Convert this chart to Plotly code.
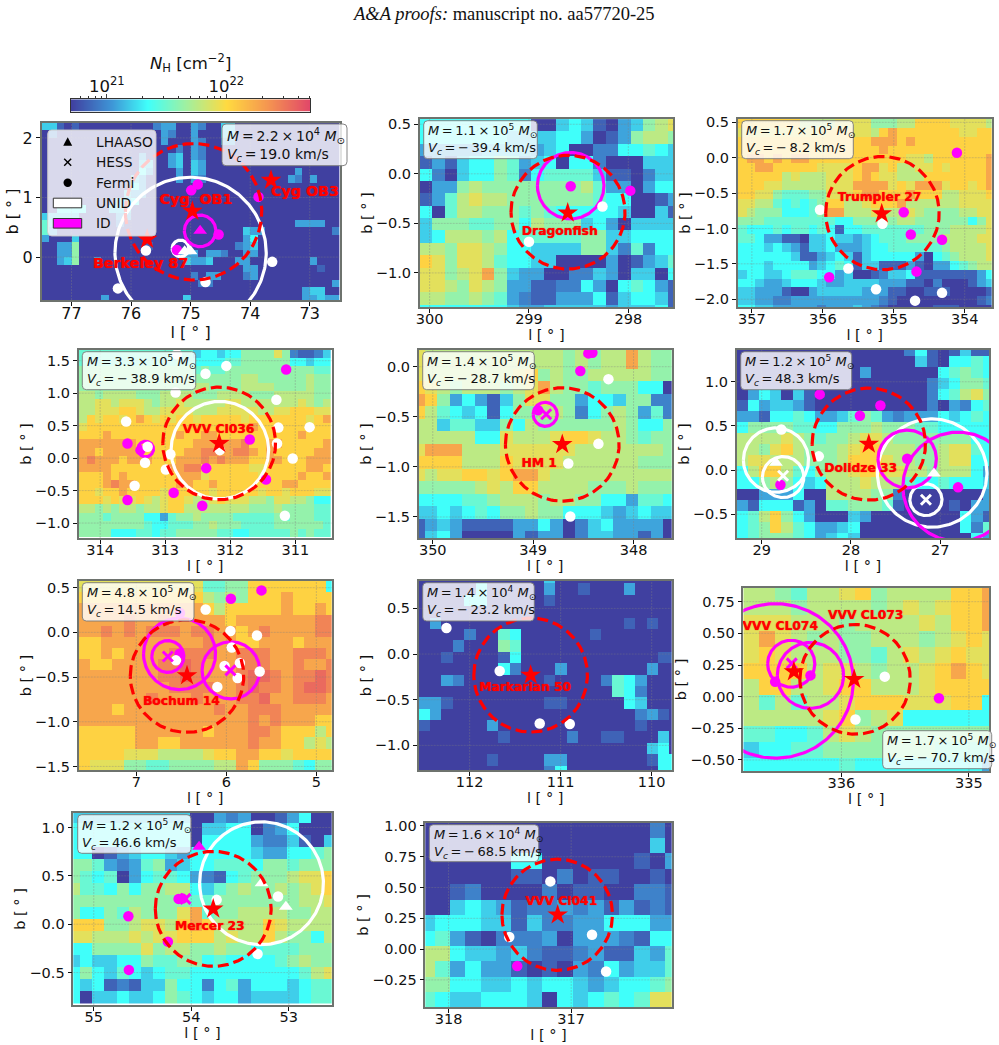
import numpy as np
import plotly.graph_objects as go

W, H = 999, 1045

# log10(N_H) for each character used in the column-density rows below
NH_LEVELS = {"0": 20.70, "1": 20.84, "2": 20.96, "3": 21.08, "4": 21.20, "5": 21.34,
             "6": 21.48, "7": 21.62, "8": 21.76, "9": 21.90, "a": 22.04, "b": 22.26,
             "c": 22.42, "d": 22.54}
NH_MIN, NH_MAX = 20.70, 22.70
COLORSCALE = [[0.00, "rgb(64,64,160)"], [0.17, "rgb(62,150,215)"], [0.32, "rgb(64,255,250)"],
              [0.48, "rgb(160,240,160)"], [0.65, "rgb(255,218,64)"], [0.82, "rgb(245,150,80)"],
              [1.00, "rgb(225,70,105)"]]

# ---------- Cygnus field ----------
CYG_ROWS = [
    "4410100000000002330032004400000000000000", "0200000000000000320030004400000000000000",
    "0000000000000000300032003300000000000000", "0000000000000000002032000000000000000000",
    "0000000000000300034032000000000000000000", "0000000000000440034043000000000000000000",
    "0000000000000530003043000000000000300000", "0000000000004300003032000000000003203000",
    "0000000000005300000000000000000000000000", "0000000000043300000000000000000000000000",
    "0000500000445000000000000000000000000000", "0055550004440000000000000000000000000000",
    "4444400000330000000000000000000000000000", "6400000000200000000000000000000000333300",
    "6300000000000000000000000004330000000002", "3000400000000000000000000003500000000000",
    "0033700000000010000000000023400000000000", "0033700000000000003330332003300000000000",
    "0034700300000000000433400033000000003000", "0000000000000000000000000003300000000100",
    "0000000000000000000020330002300000000000", "0000000000000000000002200000000000000003",
    "0000000000000000000000000000000000034400", "0000000030000000000400000000000000033433",
]
CYG_UNID_PTS = [(75.75, 0.11), (76.22, -0.525), (74.75, -0.42), (73.63, -0.08)]
CYG_ID_PTS = [(74.88, 1.22), (74.99, 1.12), (73.86, 1.01), (74.53, 0.38), (75.23, 0.12)]
CYG_UNID_RINGS = [(75.0, 0.07, 1.27), (75.17, 0.145, 0.14)]
CYG_ID_RINGS = [(74.84, 0.44, 0.265)]
CYG_UNID_TRI = [(75.1, 0.1), (75.0, 0.1)]
CYG_ID_TRI = [(74.84, 0.44)]
CYG_CLUSTERS = [("Cyg  OB1", 74.97, 0.77, 74.91, 0.955), ("Cyg OB3", 73.65, 1.29, 73.08, 1.08),
                ("Berkeley 87", 75.73, 0.30, 75.84, -0.13)]
CYG_CIRCLES = [(74.95, 0.76, 1.145)]

# ---------- Dragonfish field ----------
DRA_ROWS = [
    "5555555550045410347898", "5555555444455301378876", "333334444345002255654", "131455763450552000444",
    "520455762566664110244", "033787777777786330355", "136898877777776550013", "506887776765555540041",
    "4777667758777453044", "45888785666667744555", "88799875544447742625", "a97998655440000301346",
    "99789b743300224304405", "998798733112253056531", "887787632113335145541", "555555543344444344451",
]
DRA_UNID_PTS = [(298.26, -0.33), (299.0, -0.685)]
DRA_ID_PTS = [(298.58, -0.125), (297.98, -0.17)]
DRA_ID_RINGS = [(298.58, -0.12, 0.335)]
DRA_CLUSTERS = [("Dragonfish", 298.61, -0.395, 298.69, -0.585)]
DRA_CIRCLES = [(298.607, -0.387, 0.574)]

# ---------- Trumpler 27 field ----------
TRU_ROWS = [
    "aaaaaaa8888999977788aaaa99998", "9999999999aaa998abaaaaaaa99aa",
    "aaaaaaaaaaaaaaabbbabaaaaaaaaa", "aaaaaaaaa9aaaaaabaaaaaaaaaaaa",
    "abbababbaaaaaaaaaaa998aaaaaab", "aabbaaaaa9999abb9a8899a9aaaab",
    "aaaaa89888999aba99888aaaaaaab", "aaa9988888999bbbb9a9bbb9aa9ab",
    "aa99766677999abbaaabaaa88999a", "9988656567aa889aaab8888889999",
    "9877755567bb88898889877778899", "77766666666557778788777777579",
    "65556566565155666666677788889", "66533110445443456667777888899",
    "55545431445333455666666788889", "55555541134541455555305678889",
    "55545555345651441113103356788", "45544566655340012445111111135",
    "55433455543344443331102000134", "44333100344444333110011100001",
    "44332233333333332100000000012", "55443333323334321000001110000",
]
TRU_UNID_PTS = [(356.04, -0.735), (355.16, -0.935), (355.64, -1.565), (355.25, -1.86), (354.7, -2.02), (354.32, -1.91)]
TRU_ID_PTS = [(354.11, 0.07), (354.86, -0.77), (354.76, -1.085), (354.32, -1.16), (354.68, -1.61), (355.91, -1.69)]
TRU_CLUSTERS = [("Trumpler 27", 355.17, -0.79, 355.2, -0.575)]
TRU_CIRCLES = [(355.16, -0.783, 0.8)]

# ---------- VVV Cl036 field ----------
V36_ROWS = [
    "6666666666666645545577779721124", "6666666666666655556677777755455",
    "7777777777777767667777777777766", "7777777777777777777788777777877",
    "7777777777777788777788887777877", "8878888777888877788887778888877",
    "8899899987889888889988888889878", "88999aa9889999888999998899aaa99",
    "8a9aa9aba9a9aa9aaaaa9aaaaaaa9ab", "9aaaaaaaaaaaaaaaaaaaabaaaaaaaaa",
    "aaabaaaaaaaabaabbaaaaaaaaaabaaa", "bbbbbbbaaaaaaabbbbbbcaabbaaaaab",
    "bbabbbbbaaaaabbccbbccbabaaaaabb", "bcbbbabbbaaabbbcbcbbbaabbaaabbb",
    "bbbbaaaaaaabbccaaaaaa99aaaaabba", "aaababaaaaaabbb9aaaaaa9aaaabaab",
    "aaabcbbaaaaabbaabaaaaaaaabbaaaa", "aa9aabaaaa9aaaaa9aaaaa9aa9aaa99",
    "aaa9a99a989aa9889a9998879988755", "88787887889aa888888887778777766",
    "7776777755367787777666667677766", "7777777765566677877766667777776",
    "7777555665667777766556666676766",
]
V36_UNID_PTS = [(312.82, 1.6), (312.06, 1.42), (312.38, 1.3), (312.84, 1.01), (311.29, 0.9), (313.6, 0.564),
                (311.26, 0.47), (310.78, 0.477), (311.28, 0.226), (313.27, 0.174), (312.92, 0.06), (312.16, 0.123),
                (311.04, -0.005), (313.31, -0.07), (312.99, -0.175), (313.47, -0.426), (311.16, -0.887)]
V36_ID_PTS = [(311.14, 1.365), (311.7, 0.287), (313.58, 0.226), (313.38, 0.123), (312.37, -0.154),
              (311.45, -0.33), (312.87, -0.533), (312.43, -0.733), (313.58, -0.646)]
V36_UNID_RINGS = [(312.16, 0.123, 0.75)]
V36_ID_RINGS = [(313.3, 0.14, 0.12)]
V36_CLUSTERS = [("VVV Cl036", 312.17, 0.226, 312.18, 0.43)]
V36_CIRCLES = [(312.17, 0.226, 0.867)]

# ---------- HM 1 field ----------
HM1_ROWS = [
    "98888888888878788b877", "98888888888878788b877", "988888889a78778888877", "a987888789b8776777550",
    "ba7353147997735547722", "a86545157788725787362", "884664475877777787557", "888885598889aa9887677",
    "9bbb88899999988888887", "aaaa888a9999888888777", "9899aa9abb98888888888", "77777898aa88887778777",
    "555566788878877553665", "445456577877555434544", "134311113353024533330", "145300003133024433130",
]
HM1_UNID_PTS = [(348.25, -0.124), (348.35, -0.77), (348.65, -0.967), (348.63, -1.495)]
HM1_ID_PTS = [(348.95, -0.435), (348.53, -0.043), (348.45, 0.133), (348.41, 0.14)]
HM1_ID_RINGS = [(348.88, -0.475, 0.12)]
HM1_ID_X = [(348.87, -0.475)]
HM1_CLUSTERS = [("HM 1", 348.71, -0.776, 348.94, -0.97)]
HM1_CIRCLES = [(348.71, -0.776, 0.566)]

# ---------- Dolidze 33 field ----------
DOL_ROWS = [
    "00000000000000025101411", "00000000000000004105565", "00000000000300000056765",
    "00000000000000000245776", "03540410000000000256897", "15344310000000000203256",
    "33155653346763233354565", "57777665577787776655555", "88889876778998777777755",
    "8879a877789aa8887789965", "8998887778aaa9887789955", "58aa8657889aa9988788853",
    "55787545888988865565554", "00333500888877200000003", "31555130667776100001033",
    "568a7530004300000000531", "567a8653345000000000526", "56777653454000000000053",
]
DOL_UNID_PTS = [(28.78, 0.46), (28.36, 0.155)]
DOL_ID_PTS = [(28.79, -0.166), (28.35, 0.857), (27.67, 0.732), (27.9, 0.615), (27.37, 0.128), (26.8, -0.196)]
DOL_UNID_RINGS = [(28.84, 0.113, 0.365), (28.76, -0.08, 0.232), (27.09, -0.034, 0.614), (27.16, -0.336, 0.18)]
DOL_ID_RINGS = [(27.37, 0.125, 0.327), (26.8, -0.189, 0.618)]
DOL_UNID_TRI = [(28.84, 0.083), (27.07, -0.04)]
DOL_UNID_X = [(28.76, -0.064), (27.16, -0.336)]
DOL_CLUSTERS = [("Dolidze 33", 27.8, 0.294, 27.89, 0.01)]
DOL_CIRCLES = [(27.8, 0.294, 0.635)]

# ---------- Bochum 14 field ----------
BOC_ROWS = [
    "999999999996677aaaaaaa5", "aaaaaaaaaaa8787aaabaaaa", "bbbbbbbbbbba8aaaaabaaba", "bbbbcbbcbbbbbabbbbbbbcc",
    "bbcbcbcccbccbbabcbbbbcc", "aabbbbbbbbbcbbaabbbabbb", "aababbbbccccbbcccbbcccb",
    "baabbbbccdcbbbcccbbcbbc", "bbbbbbbccdcbbbcddcbccdc", "bbbbbbbbccccbbcdccbcddc",
    "bbbbbbcbbbcbbbccdbbcccb", "bbbabbbbbbbbcbbcccbbbbb", "bbbbbbbbbbbbbbbcbcbbbaa",
    "aaaaabbbbbbabbbccbaaa8a", "aaaaabbaabbbbbbcbbaa898", "aaaa99988889aabbaa9aaaa",
    "a9997766777788ba7776577", "a7656655679bab766557788",
]
BOC_UNID_PTS = [(6.23, 0.257), (5.955, 0.015), (5.66, -0.034), (5.94, -0.17), (5.85, -0.343), (6.02, -0.377),
                (5.875, -0.51), (5.63, -0.437), (6.1, -0.61), (6.56, -0.313)]
BOC_ID_PTS = [(5.61, 0.47), (5.95, 0.377), (6.515, 0.216), (6.52, -0.24)]
BOC_ID_RINGS = [(6.52, -0.24, 0.4), (6.65, -0.27, 0.178), (5.95, -0.425, 0.32)]
BOC_ID_X = [(6.65, -0.27), (5.955, -0.425)]
BOC_CLUSTERS = [("Bochum 14", 6.437, -0.485, 6.5, -0.78)]
BOC_CIRCLES = [(6.437, -0.489, 0.63)]

# ---------- Markarian 50 field ----------
MAR_ROWS = [
    "00000000000400000000000", "00000500000300100030000", "00005500000100000000000",
    "00000000000000000000000", "03000000000000000010100", "00002006500000010000000",
    "00020007600000000000000", "00100001500000000000011", "00000005200030000000300",
    "00320000000100002653000", "00000000000000000652000", "33100000000110000054000",
    "53000000000000000002310", "10000030000000000001000", "00000001000002001100040",
    "00000000000000000000450", "00000010000330000000155", "00000000000250000000055",
]
MAR_UNID_PTS = [(112.255, 0.285), (111.67, -0.186), (111.23, -0.76), (110.9, -0.766)]
MAR_CLUSTERS = [("Markarian 50", 111.33, -0.23, 111.39, -0.372)]
MAR_CIRCLES = [(111.33, -0.23, 0.624)]

# ---------- VVV CL073 / CL074 field ----------
V73_ROWS = [
    "8876889a78888aab", "8887888878989aab", "9998887888898aab", "9b987877888789a9",
    "9a98887768989a99", "aaaa89987889aba9", "8aa889aa8889aaaaa", "8686889aaa999aa5",
    "888889a789555555", "6655689877777777", "4556677777776666", "5555556555555553",
]
V73_UNID_PTS = [(335.66, 0.158), (335.89, -0.18)]
V73_ID_PTS = [(336.52, 0.118), (336.243, 0.168), (335.235, -0.013)]
V73_ID_RINGS = [(336.517, 0.124, 0.61), (336.243, 0.168, 0.26), (336.394, 0.26, 0.185)]
V73_ID_X = [(336.39, 0.263)]
V73_CLUSTERS = [("VVV CL073", 335.9, 0.137, 335.81, 0.64), ("VVV CL074", 336.373, 0.197, 336.48, 0.553)]
V73_CIRCLES = [(335.893, 0.137, 0.433)]

# ---------- Mercer 23 field ----------
MER_ROWS = [
    "4444444444003230013500", "5555555555044550235000", "5555555555055553224104",
    "5501345543555554335567", "7763236734556665776777", "765603566532156777899a",
    "866575778854678778789a", "7777777777667777777889", "7557687779b67788887788",
    "aaa778998aba8888a98888", "998889899aaa8988a87758", "5577779788778775666777",
    "4544557667756555567877", "5754654566555555555689", "5451214475525635554566", "5044544576545534444566",
]
MER_UNID_PTS = [(53.74, 0.252), (53.11, 0.286), (53.32, -0.307)]
MER_ID_PTS = [(54.13, 0.262), (54.09, 0.265), (54.645, 0.083), (54.64, -0.472), (54.24, -0.18)]
MER_UNID_RINGS = [(53.28, 0.424, 0.635)]
MER_UNID_TRI = [(53.28, 0.424), (53.03, 0.18)]
MER_ID_TRI = [(53.92, 0.8)]
MER_ID_X = [(54.06, 0.262)]
MER_CLUSTERS = [("Mercer 23", 53.775, 0.159, 53.81, -0.03)]
MER_CIRCLES = [(53.775, 0.159, 0.594)]

# ---------- VVV Cl041 field ----------
V41_ROWS = [
    "00000000000000020", "00000000000000040", "00000055000000103", "00000011020110010",
    "00120000201100221", "00454312232313121", "45554414223355533", "56310222303332155",
    "88544342112311436", "86353310103253446", "77554454554345567", "65445554054565699",
]
V41_UNID_PTS = [(317.17, 0.55), (317.505, 0.098), (316.83, 0.117), (316.715, -0.182)]
V41_ID_PTS = [(317.44, -0.138)]
V41_CLUSTERS = [("VVV Cl041", 317.11, 0.279, 317.08, 0.385)]
V41_CIRCLES = [(317.114, 0.279, 0.451)]

# Panel table: pixel frame (left, top, right, bottom), axis limits, grid origin, ticks and info box
PANELS = [
    dict(frame=(41.7, 123, 339.5, 300), xr=(77.5, 72.5), yr=(-0.72, 2.25), grid=(77.5, 2.25), xt=[77, 76, 75, 74, 73],
         yt=[0, 1, 2], fmt="d", rows=CYG_ROWS, upts=CYG_UNID_PTS, ipts=CYG_ID_PTS, urings=CYG_UNID_RINGS,
         irings=CYG_ID_RINGS, utri=CYG_UNID_TRI, itri=CYG_ID_TRI, clusters=CYG_CLUSTERS, circles=CYG_CIRCLES,
         mass=("2.2", "4"), vel="19.0", box=(222, 124, 347, 165.7), label_size=14.3, tick_size=16, box_size=14),
    dict(frame=(419.7, 119, 673, 307), xr=(300.1, 297.55), yr=(-1.344, 0.553), grid=(300.1, 0.552), xt=[300, 299, 298],
         yt=[-1, -0.5, 0, 0.5], fmt=".1f", rows=DRA_ROWS, upts=DRA_UNID_PTS, ipts=DRA_ID_PTS, irings=DRA_ID_RINGS,
         clusters=DRA_CLUSTERS, circles=DRA_CIRCLES, mass=("1.1", "5"), vel="−39.4", box=(423.7, 120.7, 537.3, 158.7)),
    dict(frame=(737.7, 119, 991.7, 307), xr=(357.2, 353.62), yr=(-2.11, 0.547), grid=(357.2, 0.547),
         xt=[357, 356, 355, 354], yt=[-2, -1.5, -1, -0.5, 0, 0.5], fmt=".1f", rows=TRU_ROWS, upts=TRU_UNID_PTS,
         ipts=TRU_ID_PTS, clusters=TRU_CLUSTERS, circles=TRU_CIRCLES, mass=("1.7", "5"), vel="−8.2",
         box=(741.7, 120.7, 853.3, 158.7)),
    dict(frame=(78.7, 350, 331.7, 538), xr=(314.33, 310.44), yr=(-1.23, 1.665), grid=(314.33, 1.665),
         xt=[314, 313, 312, 311], yt=[-1, -0.5, 0, 0.5, 1, 1.5], fmt=".1f", rows=V36_ROWS, upts=V36_UNID_PTS,
         ipts=V36_ID_PTS, urings=V36_UNID_RINGS, irings=V36_ID_RINGS, clusters=V36_CLUSTERS, circles=V36_CIRCLES,
         mass=("3.3", "5"), vel="−38.9", box=(82.3, 351.7, 195.7, 389.7)),
    dict(frame=(418.7, 350, 671.7, 538), xr=(350.14, 347.62), yr=(-1.71, 0.167), grid=(350.207, 0.227),
         xt=[350, 349, 348], yt=[-1.5, -1, -0.5, 0], fmt=".1f", rows=HM1_ROWS, upts=HM1_UNID_PTS, ipts=HM1_ID_PTS,
         irings=HM1_ID_RINGS, ix=HM1_ID_X, clusters=HM1_CLUSTERS, circles=HM1_CIRCLES, mass=("1.4", "5"), vel="−28.7",
         box=(422.7, 351.7, 534.3, 389.7)),
    dict(frame=(736.7, 350, 989.3, 538), xr=(29.28, 26.45), yr=(-0.77, 1.36), grid=(29.28, 1.419), xt=[29, 28, 27],
         yt=[-0.5, 0, 0.5, 1], fmt=".1f", rows=DOL_ROWS, upts=DOL_UNID_PTS, ipts=DOL_ID_PTS, urings=DOL_UNID_RINGS,
         irings=DOL_ID_RINGS, utri=DOL_UNID_TRI, ux=DOL_UNID_X, clusters=DOL_CLUSTERS, circles=DOL_CIRCLES,
         mass=("1.2", "5"), vel="48.3", box=(740.7, 351.7, 851.7, 389.7)),
    dict(frame=(78.7, 581, 331.7, 770), xr=(7.64, 4.83), yr=(-1.54, 0.575), grid=(7.64, 0.575), xt=[7, 6, 5],
         yt=[-1.5, -1, -0.5, 0, 0.5], fmt=".1f", rows=BOC_ROWS, upts=BOC_UNID_PTS, ipts=BOC_ID_PTS, irings=BOC_ID_RINGS,
         ix=BOC_ID_X, clusters=BOC_CLUSTERS, circles=BOC_CIRCLES, mass=("4.8", "5"), vel="14.5",
         box=(82.3, 582.7, 194, 621)),
    dict(frame=(418.7, 581, 671.7, 770), xr=(112.56, 109.78), yr=(-1.27, 0.8), grid=(112.56, 0.898), xt=[112, 111, 110],
         yt=[-1, -0.5, 0, 0.5], fmt=".1f", rows=MAR_ROWS, upts=MAR_UNID_PTS, clusters=MAR_CLUSTERS, circles=MAR_CIRCLES,
         mass=("1.4", "4"), vel="−23.2", box=(422.7, 582.7, 534.3, 621)),
    dict(frame=(743.3, 588, 989.3, 771), xr=(336.77, 334.84), yr=(-0.587, 0.858), grid=(336.77, 0.892), xt=[336, 335],
         yt=[-0.5, -0.25, 0, 0.25, 0.5, 0.75], fmt=".2f", rows=V73_ROWS, upts=V73_UNID_PTS, ipts=V73_ID_PTS,
         irings=V73_ID_RINGS, ix=V73_ID_X, clusters=V73_CLUSTERS, circles=V73_CIRCLES, mass=("1.7", "5"), vel="−70.7",
         box=(882.7, 730.7, 991.7, 768.7)),
    dict(frame=(73.3, 813, 331.7, 1005), xr=(55.21, 52.56), yr=(-0.835, 1.15), grid=(55.266, 1.176), xt=[55, 54, 53],
         yt=[-0.5, 0, 0.5, 1], fmt=".1f", rows=MER_ROWS, upts=MER_UNID_PTS, ipts=MER_ID_PTS, urings=MER_UNID_RINGS,
         utri=MER_UNID_TRI, itri=MER_ID_TRI, ix=MER_ID_X, clusters=MER_CLUSTERS, circles=MER_CIRCLES,
         mass=("1.2", "5"), vel="46.6", box=(77.7, 814.7, 191, 853.3)),
    dict(frame=(425.3, 823, 671.7, 1007), xr=(318.19, 316.18), yr=(-0.47, 1.024), grid=(318.239, 1.027), xt=[318, 317],
         yt=[-0.25, 0, 0.25, 0.5, 0.75, 1], fmt=".2f", rows=V41_ROWS, upts=V41_UNID_PTS, ipts=V41_ID_PTS,
         clusters=V41_CLUSTERS, circles=V41_CIRCLES, mass=("1.6", "4"), vel="−68.5", box=(429.3, 824.7, 538.7, 861.7)),
]

CELL_DEG = 0.125
MAGENTA = "#ff00ff"
RED = "#ff0000"
WHITE = "#ffffff"
FONT = "DejaVu Sans"
INK = "#111111"
TICK_SIZE = 14.5
LABEL_SIZE = 12.3
BOX_SIZE = 13
THIN = "\u2009"


def px_x(v):
    return v / W


def px_y(v):
    return 1 - v / H


def decode(rows):
    width = max(len(r) for r in rows)
    return [[NH_LEVELS[c] for c in r.ljust(width, r[-1])] for r in rows]


def ring_xy(l0, b0, radius):
    a = np.linspace(0, 2 * np.pi, 241)
    return l0 + radius * np.cos(a), b0 + radius * np.sin(a)


def rounded(x0, y0, x1, y1, r=4):
    X0, X1 = px_x(x0), px_x(x1)
    Y0, Y1 = px_y(y0), px_y(y1)
    rx, ry = r / W, r / H
    return (f"M {X0 + rx},{Y0} L {X1 - rx},{Y0} Q {X1},{Y0} {X1},{Y0 - ry} L {X1},{Y1 + ry} "
            f"Q {X1},{Y1} {X1 - rx},{Y1} L {X0 + rx},{Y1} Q {X0},{Y1} {X0},{Y1 + ry} "
            f"L {X0},{Y0 - ry} Q {X0},{Y0} {X0 + rx},{Y0} Z")


fig = go.Figure()
shapes, annotations, axes = [], [], {}


def points(pts, xa, ya, symbol, color, size, name, lw=0):
    if not pts:
        return
    fig.add_trace(go.Scatter(
        x=[p[0] for p in pts], y=[p[1] for p in pts], xaxis=xa, yaxis=ya, mode="markers", name=name,
        showlegend=False, hoverinfo="skip",
        marker=dict(symbol=symbol, color=color, size=size, line=dict(width=lw, color=color))))


def rings(items, xa, ya, color, name, dash="solid"):
    for l0, b0, radius in items or []:
        xs, ys = ring_xy(l0, b0, radius)
        fig.add_trace(go.Scatter(x=xs, y=ys, xaxis=xa, yaxis=ya, mode="lines", name=name, showlegend=False,
                                 hoverinfo="skip", line=dict(color=color, width=3.2, dash=dash)))


for idx, p in enumerate(PANELS, start=1):
    xa, ya = f"x{idx}", f"y{idx}"
    left, top, right, bottom = p["frame"]
    z = decode(p["rows"])
    tick_size = p.get("tick_size", TICK_SIZE)

    fig.add_trace(go.Heatmap(
        z=z, x0=p["grid"][0] - CELL_DEG / 2, dx=-CELL_DEG, y0=p["grid"][1] - CELL_DEG / 2, dy=-CELL_DEG,
        xaxis=xa, yaxis=ya, colorscale=COLORSCALE, zmin=NH_MIN, zmax=NH_MAX, showscale=False,
        hoverinfo="skip", zsmooth=False))

    # Faint dotted grid, kept on top of the column-density cells
    gx, gy = [], []
    for t in p["xt"]:
        gx += [t, t, None]
        gy += [p["yr"][0], p["yr"][1], None]
    for t in p["yt"]:
        gx += [p["xr"][0], p["xr"][1], None]
        gy += [t, t, None]
    fig.add_trace(go.Scatter(x=gx, y=gy, xaxis=xa, yaxis=ya, mode="lines", showlegend=False, hoverinfo="skip",
                             name="grid", line=dict(color="rgba(128,128,128,0.45)", width=0.8, dash="2px,1px")))

    rings(p.get("urings"), xa, ya, WHITE, "UNID")
    rings(p.get("irings"), xa, ya, MAGENTA, "ID")
    points(p.get("ipts"), xa, ya, "circle", MAGENTA, 10.5, "Fermi ID")
    points(p.get("upts"), xa, ya, "circle", WHITE, 10.5, "Fermi UNID")
    points(p.get("itri"), xa, ya, "triangle-up", MAGENTA, 12, "LHAASO ID")
    points(p.get("utri"), xa, ya, "triangle-up", WHITE, 12, "LHAASO UNID")
    points(p.get("ix"), xa, ya, "x-thin", MAGENTA, 10, "HESS ID", 3)
    points(p.get("ux"), xa, ya, "x-thin", WHITE, 10, "HESS UNID", 3)
    rings(p.get("circles"), xa, ya, RED, "cluster radius", dash="11px,5px")

    clusters = p["clusters"]
    fig.add_trace(go.Scatter(x=[c[1] for c in clusters], y=[c[2] for c in clusters], xaxis=xa, yaxis=ya, mode="markers",
                             showlegend=False, hoverinfo="skip", name="clusters",
                             marker=dict(symbol="star", color=RED, size=15.5, line=dict(width=0))))
    fig.add_trace(go.Scatter(x=[c[3] for c in clusters], y=[c[4] for c in clusters], xaxis=xa, yaxis=ya, mode="text",
                             showlegend=False, hoverinfo="skip", name="cluster names", cliponaxis=False,
                             text=[f"<b>{c[0]}</b>" for c in clusters],
                             textfont=dict(family=FONT, size=p.get("label_size", LABEL_SIZE), color=RED, shadow="0 0 1px #ff0000"),
                             textposition="middle center"))

    common = dict(showgrid=False, zeroline=False, showline=True, mirror=True, linecolor="rgb(110,115,110)", linewidth=1.5,
                  ticks="outside", ticklen=4, tickwidth=1, tickcolor=INK, tickfont=dict(family=FONT, size=tick_size, color=INK))
    ax_suffix = "" if idx == 1 else str(idx)
    axes[f"xaxis{ax_suffix}"] = dict(
        common, anchor=ya, domain=[px_x(left), px_x(right)], range=list(p["xr"]), tickmode="array", tickvals=p["xt"],
        ticktext=[str(t) for t in p["xt"]], ticklabelstandoff=-6,
        title=dict(text="l [ ° ]", standoff=3, font=dict(family=FONT, size=tick_size, color=INK)))
    axes[f"yaxis{ax_suffix}"] = dict(
        common, anchor=xa, domain=[px_y(bottom), px_y(top)], range=list(p["yr"]), tickmode="array", tickvals=p["yt"],
        ticktext=[f"{t:{p['fmt']}}".replace("-", "−") if p["fmt"] != "d" else str(t) for t in p["yt"]],
        title=dict(text="b [ ° ]", standoff=0, font=dict(family=FONT, size=tick_size, color=INK)))

    # Rounded, translucent information box with the mass and velocity of the cloud
    bx0, by0, bx1, by1 = p["box"]
    shapes.append(dict(type="path", xref="paper", yref="paper", layer="above", path=rounded(bx0, by0, bx1, by1),
                       fillcolor="rgba(255,255,255,0.8)", line=dict(color="rgba(120,120,120,0.9)", width=1)))
    mant, exp = p["mass"]
    vel = p["vel"].replace("−", "−" + THIN)
    annotations.append(dict(
        xref="paper", yref="paper", x=px_x(bx0 + 2.6), y=px_y((by0 + by1) / 2), xanchor="left", yanchor="middle",
        align="left", showarrow=False, font=dict(family=FONT, size=p.get("box_size", BOX_SIZE), color=INK),
        text=(f"<i>M</i>{THIN}={THIN}{mant}{THIN}×{THIN}10<sup>{exp}</sup> <i>M</i><sub>⊙</sub><br>"
              f"<i>V<sub>c</sub></i>{THIN}={THIN}{vel} km/s")))

# Horizontal colour bar for the column density
cb_x = np.linspace(NH_MIN, NH_MAX, 240)
fig.add_trace(go.Heatmap(z=[cb_x], x=cb_x, y=[0], xaxis="x12", yaxis="y12", colorscale=COLORSCALE, zmin=NH_MIN, zmax=NH_MAX,
                         showscale=False, hoverinfo="skip", name="colour bar"))
decades = [20, 21, 22]
minor_vals = [d + np.log10(m) for d in decades for m in range(2, 10) if NH_MIN < d + np.log10(m) < NH_MAX]
axes["xaxis12"] = dict(anchor="y12", domain=[px_x(71), px_x(310)], range=[NH_MIN, NH_MAX], side="top", showgrid=False,
                       zeroline=False, showline=True, mirror=True, linecolor="#333333", linewidth=1, ticks="outside", ticklen=4,
                       tickmode="array", tickvals=[21, 22], ticktext=["10<sup>21</sup>", "10<sup>22</sup>"], ticklabelstandoff=-4,
                       tickfont=dict(family=FONT, size=16.5, color=INK),
                       minor=dict(tickmode="array", tickvals=minor_vals, ticks="outside", ticklen=2.5, tickwidth=0.8, tickcolor="#333333", showgrid=False))
axes["yaxis12"] = dict(anchor="x12", domain=[px_y(111.7), px_y(99.3)], showticklabels=False, ticks="", showgrid=False,
                       zeroline=False, showline=True, mirror=True, linecolor="#333333", linewidth=1)
annotations.append(dict(xref="paper", yref="paper", x=px_x(190), y=px_y(63), xanchor="center", yanchor="middle", showarrow=False,
                        font=dict(family=FONT, size=16.5, color=INK),
                        text="<i>N</i><sub>H</sub> [cm<sup>−2</sup>]"))

# Running head
annotations.append(dict(xref="paper", yref="paper", x=px_x(504), y=px_y(14), xanchor="center", yanchor="middle", showarrow=False,
                        font=dict(family="Liberation Serif", size=18.5, color=INK),
                        text="<i>A&amp;A proofs:</i> manuscript no. aa57720-25"))

# Legend of the first panel
shapes.append(dict(type="path", xref="paper", yref="paper", layer="above", path=rounded(47.7, 130, 156, 236),
                   fillcolor="rgba(255,255,255,0.8)", line=dict(color="rgba(200,200,200,0.9)", width=1)))
LEGEND_LABELS = ["LHAASO", "HESS", "Fermi", "UNID", "ID"]
LEGEND_Y = [141.7, 162.3, 182.7, 203, 223.3]
for label, y in zip(LEGEND_LABELS, LEGEND_Y):
    annotations.append(dict(xref="paper", yref="paper", x=px_x(93.5), y=px_y(y), xanchor="left", yanchor="middle", showarrow=False,
                            font=dict(family=FONT, size=13.8, color=INK), text=label))


def pxpath(points_):
    return "M " + " L ".join(f"{px_x(a)},{px_y(b)}" for a, b in points_) + " Z"


lx = 67.7
shapes.append(dict(type="path", xref="paper", yref="paper", layer="above", fillcolor="black", line=dict(width=0),
                   path=pxpath([(lx - 4.5, LEGEND_Y[0] + 4), (lx + 4.5, LEGEND_Y[0] + 4), (lx, LEGEND_Y[0] - 4.5)])))
for dx_, dy_ in [(1, 1), (1, -1)]:
    shapes.append(dict(type="line", xref="paper", yref="paper", layer="above", line=dict(color="black", width=1.4),
                       x0=px_x(lx - 3.5 * dx_), y0=px_y(LEGEND_Y[1] - 3.5 * dy_), x1=px_x(lx + 3.5 * dx_), y1=px_y(LEGEND_Y[1] + 3.5 * dy_)))
shapes.append(dict(type="circle", xref="paper", yref="paper", layer="above", fillcolor="black", line=dict(width=0),
                   x0=px_x(lx - 4.2), x1=px_x(lx + 4.2), y0=px_y(LEGEND_Y[2] + 4.2), y1=px_y(LEGEND_Y[2] - 4.2)))
for y, fill in [(LEGEND_Y[3], WHITE), (LEGEND_Y[4], MAGENTA)]:
    shapes.append(dict(type="rect", xref="paper", yref="paper", layer="above", fillcolor=fill, line=dict(color="#333333", width=1),
                       x0=px_x(53.3), x1=px_x(81.7), y0=px_y(y + 4.8), y1=px_y(y - 4.8)))

fig.update_layout(width=W, height=H, margin=dict(l=0, r=0, t=0, b=0, autoexpand=False), paper_bgcolor="white", plot_bgcolor="white",
                  showlegend=False, shapes=shapes, annotations=annotations, **axes)
fig.write_html("out.html")
